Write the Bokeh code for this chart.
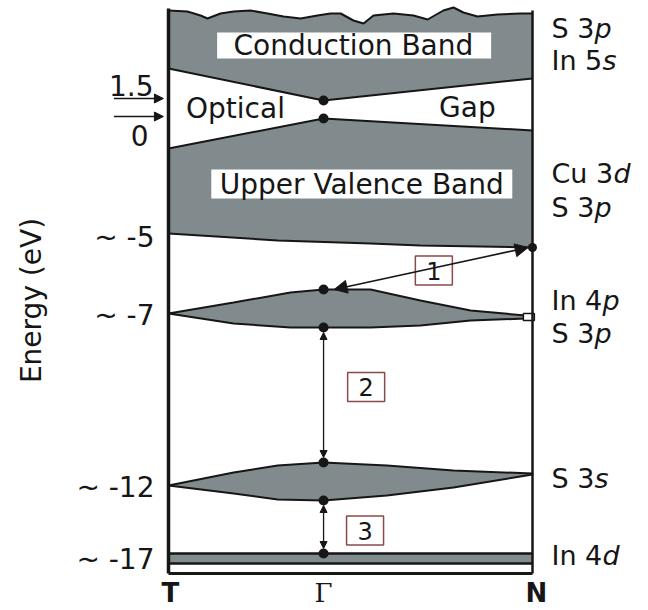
from bokeh.plotting import figure
from bokeh.models import Range1d, Arrow, NormalHead
from bokeh.core.properties import value
from bokeh.embed import file_html
from bokeh.resources import INLINE

# High-symmetry points along the path (fraction of T -> N)
k_points = [0.0, 0.426, 1.0]
k_labels = ["T", "Γ", "N"]

# Schematic energy scale (diagram units, bottom of frame = 0)
# Conduction band: ragged upper cut-off and lower edge
cb_top_k = [0, .052, .088, .107, .143, .179, .225, .272, .316, .363, .409, .445, .473,
            .508, .536, .563, .618, .673, .712, .755, .783, .810, .849, .904, .967, 1.0]
cb_top_e = [563, 562, 558, 555, 560, 562, 563, 560, 557, 555, 558, 560, 560,
            553, 550, 558, 560, 558, 554, 563, 566, 561, 557, 559, 560, 560]
cb_bot_k = [0.0, 0.426, 1.0]
cb_bot_e = [505, 473, 495]

# Upper valence band (Cu 3d / S 3p)
vb_top_k = [0.0, 0.426, 1.0]
vb_top_e = [425, 455, 443]
vb_bot_k = [0.0, 0.30, 0.555, 0.692, 1.0]
vb_bot_e = [340, 333, 330, 328, 326]

# In 4p / S 3p band
p4_k = [0.0, 0.179, 0.335, 0.426, 0.555, 0.692, 0.83, 0.981]
p4_up = [260, 271, 281, 284, 284, 273, 263, 258]
p4_lo = [260, 250, 246, 246, 246, 248, 253, 255]

# S 3s band
s3_k = [0.0, 0.179, 0.30, 0.426, 0.60, 0.783, 1.0]
s3_up = [88, 101, 108, 111, 108, 103, 100]
s3_lo = [88, 80, 74, 73, 78, 86, 99]

# In 4d core level
d4_lo, d4_hi = 10, 20

# Axis annotations
gap_labels = ["1.5", "0"]
level_labels = ["~ -5", "~ -7", "~ -12", "~ -17"]
orbitals = [("S 3", "p"), ("In 5", "s"), ("Cu 3", "d"), ("S 3", "p"),
            ("In 4", "p"), ("S 3", "p"), ("S 3", "s"), ("In 4", "d")]
transitions = ["1", "2", "3"]

FILL = "#818b8d"
INK = "#161616"
FONT = value("DejaVu Sans")

p = figure(width=648, height=610, output_backend="svg", toolbar_location=None,
           x_range=Range1d(-168 / 364, 480 / 364), y_range=Range1d(-37, 573),
           x_axis_location=None, y_axis_location=None, min_border=0,
           outline_line_color=None, background_fill_color="white")
p.grid.visible = False

# Conduction band
cb_x = cb_bot_k + cb_top_k[::-1]
cb_y = cb_bot_e + cb_top_e[::-1]
p.patch(cb_x, cb_y, fill_color=FILL, line_color=None)
p.line(cb_top_k, cb_top_e, line_color=INK, line_width=2)
p.line(cb_bot_k, cb_bot_e, line_color=INK, line_width=2)

# Upper valence band
vb_x = vb_top_k + vb_bot_k[::-1]
vb_y = vb_top_e + vb_bot_e[::-1]
p.patch(vb_x, vb_y, fill_color=FILL, line_color=None)
p.line(vb_top_k, vb_top_e, line_color=INK, line_width=2)
p.line(vb_bot_k, vb_bot_e, line_color=INK, line_width=2)

# In 4p and S 3s lens-shaped bands
p.patch(p4_k + p4_k[::-1], p4_up + p4_lo[::-1], fill_color=FILL,
        line_color=INK, line_width=2)
p.rect([0.99], [(p4_up[-1] + p4_lo[-1]) / 2], width=11, height=7,
       width_units="screen", height_units="screen",
       fill_color="white", line_color=INK, line_width=1.5)
p.patch(s3_k + s3_k[::-1], s3_up + s3_lo[::-1], fill_color=FILL,
        line_color=INK, line_width=2)

# In 4d strip
p.varea(x=[0, 1], y1=[d4_lo, d4_lo], y2=[d4_hi, d4_hi], fill_color=FILL)
p.segment(x0=[0, 0], y0=[d4_lo, d4_hi], x1=[1, 1], y1=[d4_lo, d4_hi],
          line_color=INK, line_width=2.5)

# Frame: left, right and bottom sides
p.segment(x0=[0], y0=[0], x1=[0], y1=[565], line_color=INK, line_width=3.5)
p.segment(x0=[1], y0=[0], x1=[1], y1=[cb_top_e[-1] + 3], line_color=INK, line_width=2.5)
p.segment(x0=[0], y0=[0], x1=[1], y1=[0], line_color=INK, line_width=3)

# Band extrema at Gamma
g = k_points[1]
gamma_e = [cb_bot_e[1], vb_top_e[1], p4_up[3], p4_lo[3], s3_up[3], s3_lo[3], d4_hi]

# Transitions
head = lambda s: NormalHead(size=s, fill_color=INK, line_color=INK)
p.add_layout(Arrow(start=head(13), end=head(13), x_start=0.455, y_start=p4_up[3],
                   x_end=0.988, y_end=vb_bot_e[-1], line_color=INK, line_width=1.6))
p.add_layout(Arrow(start=head(7), end=head(7), x_start=g, y_start=p4_lo[3] - 5,
                   x_end=g, y_end=s3_up[3] + 5, line_color=INK, line_width=1.3))
p.add_layout(Arrow(start=head(7), end=head(7), x_start=g, y_start=s3_lo[3] - 5,
                   x_end=g, y_end=d4_hi + 5, line_color=INK, line_width=1.3))

p.scatter([g] * len(gamma_e), gamma_e, size=10, fill_color=INK, line_color=None)
p.scatter([1.0], [vb_bot_e[-1]], size=9, fill_color=INK, line_color=None)

# Numbered transition boxes
p.rect([0.729, 0.543, 0.540], [303, 186.5, 43], width=37, height=29,
       width_units="screen", height_units="screen", fill_color="white",
       line_color="#8a4a48", line_width=1.5)
p.text([0.729, 0.543, 0.540], [303, 186.5, 43], text=transitions,
       text_font=FONT, text_font_size="24px", text_color=INK,
       text_align="center", text_baseline="middle")

# Band names on white boxes
p.rect([0.51, 0.531], [528, 389.5], width=[274, 301], height=[26, 29],
       width_units="screen", height_units="screen", fill_color="white", line_color=None)
p.text([0.508, 0.531], [528, 389.5], text=["Conduction Band", "Upper Valence Band"],
       text_font=FONT, text_font_size="28px", text_color=INK,
       text_align="center", text_baseline="middle")
p.text([0.184, 0.821], [465, 466], text=["Optical", "Gap"],
       text_font=FONT, text_font_size="28px", text_color=INK,
       text_align="center", text_baseline="middle")

# Gap markers on the left
p.text([-0.041, -0.055], [488, 438], text=gap_labels, text_font=FONT,
       text_font_size="28px", text_color=INK, text_align="right", text_baseline="middle")
for e in (cb_bot_e[1], vb_top_e[1]):
    p.add_layout(Arrow(end=NormalHead(size=9, fill_color=INK, line_color=INK),
                       x_start=-0.15, y_start=e + 2, x_end=-0.014, y_end=e + 2,
                       line_color=INK, line_width=1.5))

# Energy levels on the left
p.text([-0.0385] * 4, [336, 258, 86, 14], text=level_labels, text_font=FONT,
       text_font_size="28px", text_color=INK, text_align="right", text_baseline="middle")
p.text([-0.376], [273], text=["Energy (eV)"], angle=1.5708, text_font=FONT,
       text_font_size="28px", text_color=INK, text_align="center", text_baseline="middle")

# Orbital character on the right
orb_y = [545, 513, 400, 366, 273, 240, 95, 18]
orb_off = {"S 3": 43, "In 4": 51, "In 5": 51, "Cu 3": 62}
p.text([1.052] * len(orbitals), orb_y, text=[o[0] for o in orbitals], text_font=FONT,
       text_font_size="27px", text_color=INK, text_align="left", text_baseline="middle")
for (head_txt, sub), y in zip(orbitals, orb_y):
    p.text([1.052], [y], text=[sub], x_offset=orb_off[head_txt], text_font=FONT,
           text_font_size="27px", text_font_style="italic", text_color=INK,
           text_align="left", text_baseline="middle")

# k-path labels
p.text([0.005, 1.011], [-19, -19], text=[k_labels[0], k_labels[2]], text_font=FONT,
       text_font_size="26px", text_font_style="bold", text_color=INK,
       text_align="center", text_baseline="middle")
p.text([k_points[1]], [-19], text=[k_labels[1]], text_font=value("DejaVu Serif"),
       text_font_size="26px", text_color=INK, text_align="center", text_baseline="middle")

open("out.html", "w").write(file_html(p, INLINE))
